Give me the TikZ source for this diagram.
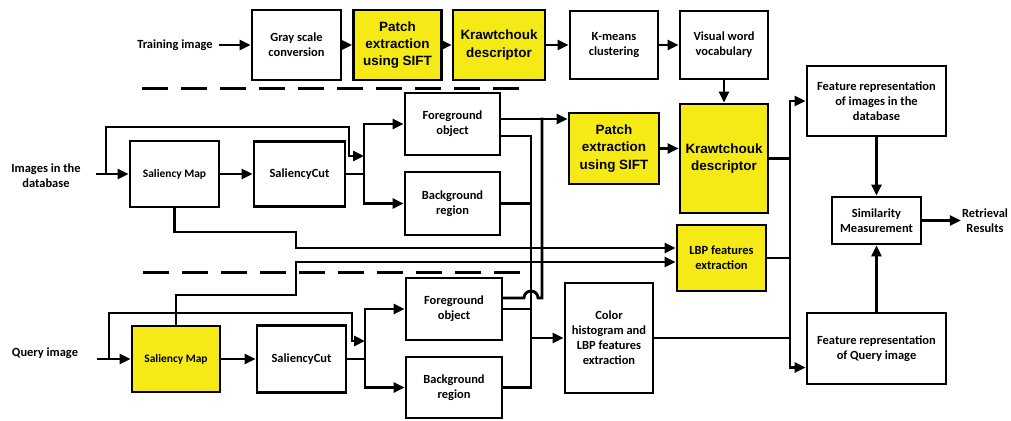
\documentclass[tikz,border=0pt]{standalone}
\usepackage{fontspec}
\usetikzlibrary{positioning,calc,arrows.meta}
\newfontfamily\calib{Carlito}
\newfontfamily\arialf{Liberation Sans}
\definecolor{boxyellow}{HTML}{F5EA16}

\tikzset{
  blk/.style={draw, line width=2.8bp, fill=white, align=center, inner sep=1bp,
    font=\calib\bfseries\fontsize{12.5}{15}\selectfont},
  hl/.style={blk, fill=boxyellow},
  hlbig/.style={hl, font=\arialf\bfseries\fontsize{13.5}{17.5}\selectfont},
  smfont/.style={font=\calib\bfseries\fontsize{11.5}{14}\selectfont},
  lbl/.style={align=center, inner sep=1bp, font=\calib\bfseries\fontsize{12.5}{15}\selectfont},
  wire/.style={line width=2.8bp, line cap=rect},
  arr/.style={line width=2.8bp, -{Triangle[length=11bp,width=10bp]}},
  divider/.style={line width=3bp, dash pattern=on 26bp off 13bp},
}

\begin{document}
\begin{tikzpicture}[x=1bp,y=-1bp]
\fill[white] (0,0) rectangle (1011,420);
\useasboundingbox (0,0) rectangle (1011,420);

% training row
\node[lbl] (trainlbl) at (175,45) {Training image};
\node[blk, minimum width=89bp, minimum height=70bp] (gray) at (296.5,45) {Gray scale\\conversion};
\node[hlbig, minimum width=88bp, minimum height=70bp] (patchT) at (397.5,45) {Patch\\extraction\\using SIFT};
\node[hlbig, minimum width=92bp, minimum height=70bp] (krawT) at (499,45) {Krawtchouk\\descriptor};
\node[blk, minimum width=88bp, minimum height=68bp] (kmeans) at (614,45) {K-means\\clustering};
\node[blk, minimum width=88bp, minimum height=68bp] (vocab) at (724,45) {Visual word\\vocabulary};

\draw[divider] (142,88) -- (521,88);
\draw[divider] (143,272) -- (521,272);

% database row
\node[lbl] (dblbl) at (46,176) {Images in the\\database};
\node[blk, smfont, minimum width=89bp, minimum height=66bp] (smDb) at (174.5,174) {Saliency Map};
\node[blk, minimum width=91bp, minimum height=65bp] (scDb) at (299.5,174) {SaliencyCut};
\node[blk, minimum width=95bp, minimum height=62bp] (fgDb) at (452.5,124) {Foreground\\object};
\node[blk, minimum width=95bp, minimum height=63bp] (bgDb) at (452.5,203.5) {Background\\region};
\node[hlbig, minimum width=90bp, minimum height=71bp] (patchM) at (614,148.5) {Patch\\extraction\\using SIFT};
\node[hlbig, minimum width=88bp, minimum height=109bp] (krawM) at (724,158.5) {Krawtchouk\\descriptor};
\node[hl, minimum width=89bp, minimum height=66bp] (lbp) at (721.5,258) {LBP features\\extraction};
\node[blk, minimum width=139bp, minimum height=70bp] (featDb) at (876.5,101) {Feature representation\\of images in the\\database};
\node[blk, minimum width=89bp, minimum height=47bp] (sim) at (876.5,220.5) {Similarity\\Measurement};
\node[lbl] (retr) at (985,220.5) {Retrieval\\Results};

% query row
\node[lbl] (qlbl) at (45,353) {Query image};
\node[hl, smfont, minimum width=88bp, minimum height=66bp] (smQ) at (176,359) {Saliency Map};
\node[blk, minimum width=89bp, minimum height=67bp] (scQ) at (301.5,359) {SaliencyCut};
\node[blk, minimum width=96bp, minimum height=62bp] (fgQ) at (454,309) {Foreground\\object};
\node[blk, minimum width=96bp, minimum height=61bp] (bgQ) at (454,387.5) {Background\\region};
\node[blk, minimum width=88bp, minimum height=110bp] (color) at (609,338) {Color\\histogram and\\LBP features\\extraction};
\node[blk, minimum width=139bp, minimum height=71bp] (featQ) at (876.5,348.5) {Feature representation\\of Query image};

% junctions
\coordinate (dbsrc) at (96,174);
\coordinate (dbtap) at (106,174);
\coordinate (dbfork) at (364,174);
\coordinate (qsrc) at (97,359);
\coordinate (qtap) at (109,359);
\coordinate (qfork) at (365,359);
\coordinate (lbpdrop) at (296,0);
\coordinate (cbus) at (531,0);
\coordinate (pbus) at (542,0);
\coordinate (fbus) at (790,0);
\coordinate (fgDbUp) at ([yshift=5bp]fgDb.east);
\coordinate (fgDbLo) at ([yshift=-12bp]fgDb.east);
\coordinate (fgQup) at ([yshift=11bp]fgQ.east);
\coordinate (featQlo) at ([yshift=-19bp]featQ.west);

% training chain
\draw[arr, shorten <=5bp] (trainlbl.east) -- (trainlbl.east -| gray.west);
\foreach \a/\b in {gray/patchT, patchT/krawT, krawT/kmeans, kmeans/vocab}
  \draw[arr] (\a) -- (\b);

% database chain
\draw[arr] (dbsrc) -- (smDb.west);
\draw[arr] (smDb) -- (scDb);
\draw[wire] (scDb.east) -- (dbfork);
\draw[arr] (dbfork) |- (fgDb.west);
\draw[arr] (dbfork) |- (bgDb.west);
\draw[arr] (dbtap) |- (349,127) -- (349,156) -- (dbfork |- 0,156);
\draw[arr] (smDb.south) |- (lbpdrop |- 0,232) |- ([yshift=10bp]lbp.west);

% query chain
\draw[arr] (qsrc) -- (smQ.west);
\draw[arr] (smQ) -- (scQ);
\draw[wire] (scQ.east) -- (qfork);
\draw[arr] (qfork) |- (fgQ.west);
\draw[arr] (qfork) |- (bgQ.west);
\draw[arr] (qtap) |- (352,313) -- (352,341) -- (qfork |- 0,341);
\draw[arr] (smQ.north) |- (lbpdrop |- 0,295) |- ([yshift=-4bp]lbp.west);

% object / region buses
\draw[wire] (fgDbLo) -| (bgQ.east -| cbus) -- (bgQ.east);
\draw[wire] (bgDb.east) -- (bgDb.east -| cbus);
\draw[wire] (fgQ.east) -- (fgQ.east -| cbus);
\draw[arr] (color.west -| cbus) -- (color.west);
\draw[wire] (fgQup) -- (524,298) arc[start angle=180, end angle=0, radius=7bp]
  -- (fgQup -| pbus) -- (fgDbUp -| pbus);
\draw[arr] (fgDbUp) -- (fgDbUp -| patchM.west);

% features
\draw[arr] (patchM.east) -- (patchM.east -| krawM.west);
\draw[arr] (vocab) -- (krawM);
\draw[wire] (fbus |- featDb.west) -- (fbus |- featQlo);
\draw[arr] (fbus |- featDb.west) -- (featDb.west);
\draw[arr] (fbus |- featQlo) -- (featQlo);
\draw[wire] (krawM.east) -- (krawM.east -| fbus);
\draw[wire] (lbp.east) -- (lbp.east -| fbus);
\draw[wire] (color.east) -- (color.east -| fbus);
\draw[arr] (featDb) -- (sim);
\draw[arr] (featQ) -- (sim);
\draw[arr] (sim) -- (retr);
\end{tikzpicture}
\end{document}
